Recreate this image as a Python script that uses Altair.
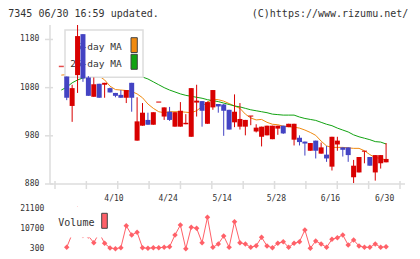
import altair as alt
import pandas as pd

# Daily OHLC prices (oldest first)
opens = [1124, 1103, 1042, 1106, 1191, 1101, 1061, 1088, 1086, 1079,
         1069, 1065, 1059, 1090, 970, 1001, 1013, 1003, 1050, 1020,
         1030, 999, 999, 1004, 978, 1049, 1052, 1005, 1039, 1046,
         1045, 1034, 1008, 999, 999, 1021, 989, 978, 981, 973,
         995, 1001, 998, 972, 976, 968, 949, 970, 943, 941,
         916, 962, 956, 956, 894, 904, 948, 936, 904, 923, 925]
highs = [1124, 1103, 1086, 1210, 1191, 1104, 1101, 1088, 1090, 1080,
         1069, 1075, 1075, 1090, 1060, 1048, 1028, 1029, 1050, 1039,
         1040, 1029, 1050, 1025, 1079, 1086, 1052, 1051, 1075, 1046,
         1046, 1034, 1066, 1048, 1013, 1021, 1004, 999, 1001, 1001,
         1001, 1001, 1005, 1005, 981, 968, 965, 970, 966, 959,
         978, 978, 956, 956, 930, 936, 948, 936, 940, 940, 965]
lows = [1124, 1054, 1009, 1069, 1092, 1063, 1061, 1059, 1059, 1070,
        1060, 1059, 1048, 1030, 970, 1001, 1003, 1003, 1050, 1013,
        1011, 999, 999, 1004, 978, 1020, 999, 1005, 1034, 1028,
        980, 993, 998, 993, 981, 1002, 987, 958, 981, 973,
        982, 984, 998, 960, 960, 939, 949, 933, 943, 926,
        908, 949, 937, 926, 882, 904, 923, 918, 887, 912, 925]
closes = [1124, 1059, 1079, 1187, 1099, 1063, 1087, 1059, 1090, 1070,
          1063, 1059, 1075, 1059, 1010, 1028, 1003, 1029, 1050, 1039,
          1013, 1029, 1032, 1007, 1079, 1053, 1032, 1050, 1075, 1041,
          1032, 993, 1030, 1015, 1013, 1021, 997, 999, 1001, 1001,
          1001, 985, 1005, 1005, 967, 964, 965, 949, 956, 933,
          978, 970, 951, 940, 918, 936, 948, 918, 940, 940, 932]

# Moving averages
ma5 = [1106, 1107, 1108, 1110, 1110, 1109, 1108, 1104, 1096, 1083,
       1076, 1075, 1074, 1072, 1067, 1059, 1046, 1037, 1030, 1028,
       1030, 1030, 1030, 1029, 1028, 1032, 1041, 1050, 1056, 1055,
       1052, 1047, 1042, 1037, 1025, 1017, 1013, 1014, 1008, 1004,
       1003, 1000, 999, 998, 996, 992, 987, 981, 969, 959,
       956, 956, 956, 955, 954, 954, 949, 941, 935, 933, 930]
ma25 = [1075, 1081, 1090, 1096, 1100, 1103, 1105, 1106, 1107, 1107,
        1107, 1106, 1106, 1105, 1104, 1102, 1098, 1092, 1086, 1080,
        1075, 1071, 1067, 1064, 1062, 1060, 1058, 1055, 1053, 1051,
        1048, 1045, 1042, 1040, 1037, 1034, 1032, 1030, 1028, 1025,
        1024, 1023, 1023, 1023, 1019, 1016, 1014, 1012, 1008, 1004,
        1001, 996, 992, 988, 982, 978, 975, 972, 968, 967, 963]

# Daily volume
volumes = [None, 1040, 8060, 21100, 7270, 7000, 3470, 8590, 3150, 670,
           300, 830, 12390, 7530, 9010, 830, 510, 830, 830, 1040,
           1360, 7530, 12810, 300, 11600, 11070, 3470, 16880, 1040, 2780,
           7010, 1040, 14560, 3470, 2780, 1040, 1880, 6320, 1730, 830,
           3150, 4000, 1040, 3150, 4000, 10170, 510, 4370, 2780, 1040,
           5260, 6110, 7530, 2250, 4890, 1730, 1040, 1040, 2780, 1040, 1360]

date_labels = ["4/10", "4/24", "5/14", "5/28", "6/16", "6/30"]
date_label_days = [10, 20, 30, 40, 50, 60]
price_ticks = [880, 980, 1080, 1180]
volume_ticks = [300, 10700, 21100]

RED, BLUE = "#d80000", "#4343c3"
ORANGE, GREEN = "#f08a10", "#12a312"
VOL = "#ff6068"
GRID = "#dddddd"
INK = "#333333"
MONO = "DejaVu Sans Mono"

W, H = 355, 230
X_LO, X_HI = -1.167, 62.57

n = len(closes)
df = pd.DataFrame({
    "day": list(range(n)),
    "open": opens, "high": highs, "low": lows, "close": closes,
    "ma5": ma5, "ma25": ma25, "volume": volumes,
})
df["top"] = df[["open", "close"]].max(axis=1)
df["bottom"] = df[["open", "close"]].min(axis=1)
df["dir"] = ["down" if c < o else "up" for o, c in zip(opens, closes)]

one = pd.DataFrame({"k": [0]})
xtick_df = pd.DataFrame({"t": [X_LO + k * (X_HI - X_LO) / 11 for k in range(12)]})
dates_df = pd.DataFrame({"day": date_label_days, "label": date_labels})
pticks_df = pd.DataFrame({"p": price_ticks})
vticks_df = pd.DataFrame({"v": volume_ticks})

x_scale = alt.Scale(domain=[X_LO, X_HI], nice=False, zero=False)
price_scale = alt.Scale(domain=[880, 1210], range=[159, 0], nice=False, zero=False)
vol_scale = alt.Scale(domain=[300, 21100], range=[223.7, 184.3], nice=False, zero=False)
color = alt.Color("dir:N", scale=alt.Scale(domain=["up", "down"], range=[RED, BLUE]), legend=None)

X = alt.X("day:Q", scale=x_scale, axis=None)

# volume panel
vol_line = alt.Chart(df).mark_line(color=VOL, strokeWidth=1).encode(
    x=X, y=alt.Y("volume:Q", scale=vol_scale, axis=None))
vol_pts = alt.Chart(df).mark_point(shape="diamond", filled=True, size=30, color=VOL, opacity=1).encode(
    x=X, y=alt.Y("volume:Q", scale=vol_scale, axis=None))
vol_box = alt.Chart(one).mark_rect(fill="white").encode(
    x=alt.value(5), x2=alt.value(62), y=alt.value(182), y2=alt.value(212.5))
vol_text = alt.Chart(one).mark_text(text="Volume", align="left", baseline="alphabetic",
                                    font=MONO, fontSize=10, color=INK).encode(
    x=alt.value(8.3), y=alt.value(201))
vol_swatch = alt.Chart(one).mark_rect(fill=VOL, stroke="#444", strokeWidth=1).encode(
    x=alt.value(51.7), x2=alt.value(57.3), y=alt.value(188.3), y2=alt.value(203.3))
vol_labels = alt.Chart(vticks_df).mark_text(align="right", baseline="middle", font=MONO,
                                            fontSize=8, color=INK).encode(
    x=alt.value(-5.7), y=alt.Y("v:Q", scale=vol_scale, axis=None), text="v:Q")

# moving averages
ma5_line = alt.Chart(df).mark_line(color=ORANGE, strokeWidth=1).encode(
    x=X, y=alt.Y("ma5:Q", scale=price_scale, axis=None))
ma25_line = alt.Chart(df).mark_line(color=GREEN, strokeWidth=1).encode(
    x=X, y=alt.Y("ma25:Q", scale=price_scale, axis=None))

# price legend
leg_box = alt.Chart(one).mark_rect(fill="white", stroke=GRID, strokeWidth=1.5).encode(
    x=alt.value(15), x2=alt.value(93), y=alt.value(5), y2=alt.value(52.3))
leg_t1 = alt.Chart(one).mark_text(text="5-day MA", align="right", baseline="alphabetic",
                                  font=MONO, fontSize=9.5, color=INK).encode(
    x=alt.value(71.7), y=alt.value(25))
leg_t2 = alt.Chart(one).mark_text(text="25-day MA", align="right", baseline="alphabetic",
                                  font=MONO, fontSize=9.5, color=INK).encode(
    x=alt.value(71.7), y=alt.value(41.7))
leg_s1 = alt.Chart(one).mark_rect(fill=ORANGE, stroke="#444", strokeWidth=1).encode(
    x=alt.value(81), x2=alt.value(87.3), y=alt.value(12.7), y2=alt.value(27.5))
leg_s2 = alt.Chart(one).mark_rect(fill=GREEN, stroke="#444", strokeWidth=1).encode(
    x=alt.value(81), x2=alt.value(87.3), y=alt.value(29.3), y2=alt.value(44.3))

# candles
wicks = alt.Chart(df).mark_rule(strokeWidth=1).encode(
    x=X, y=alt.Y("low:Q", scale=price_scale, axis=None), y2="high:Q", color=color)
bodies = alt.Chart(df).mark_bar(size=5).encode(
    x=X, y=alt.Y("bottom:Q", scale=price_scale, axis=None), y2="top:Q", color=color)
flats = alt.Chart(df).transform_filter("datum.open == datum.close").mark_tick(
    orient="horizontal", size=5, thickness=1.5).encode(
    x=X, y=alt.Y("close:Q", scale=price_scale, axis=None), color=color)

# axes
y_line = alt.Chart(one).mark_rule(color=GRID, strokeWidth=1.5).encode(
    x=alt.value(0), y=alt.value(0), y2=alt.value(159))
x_line = alt.Chart(one).mark_rule(color=GRID, strokeWidth=1.5).encode(
    x=alt.value(0), x2=alt.value(W), y=alt.value(159))
x_ticks = alt.Chart(xtick_df).mark_rule(color=GRID, strokeWidth=1.5).encode(
    x=alt.X("t:Q", scale=x_scale, axis=None), y=alt.value(156), y2=alt.value(164))
y_ticks = alt.Chart(pticks_df).mark_rule(color=GRID, strokeWidth=1.5).encode(
    y=alt.Y("p:Q", scale=price_scale, axis=None), x=alt.value(-5), x2=alt.value(3))
y_labels = alt.Chart(pticks_df).mark_text(align="right", baseline="middle", font=MONO,
                                          fontSize=8, color=INK).encode(
    x=alt.value(-10.7), y=alt.Y("p:Q", scale=price_scale, axis=None), text="p:Q")
x_labels = alt.Chart(dates_df).mark_text(align="center", baseline="alphabetic", font=MONO,
                                         fontSize=8, color=INK, dx=-1.5).encode(
    x=X, y=alt.value(175.5), text="label:N")

header_l = alt.Chart(one).mark_text(text="7345 06/30 16:59 updated.", align="left",
                                    baseline="alphabetic", font=MONO, fontSize=10, color=INK).encode(
    x=alt.value(-41.7), y=alt.value(-8.5))
header_r = alt.Chart(one).mark_text(text="(C)https://www.rizumu.net/", align="right",
                                    baseline="alphabetic", font=MONO, fontSize=10, color=INK).encode(
    x=alt.value(358.3), y=alt.value(-8.5))

chart = alt.layer(
    vol_line, vol_pts, vol_box, vol_text, vol_swatch, vol_labels,
    ma5_line, ma25_line,
    leg_box, leg_t1, leg_t2, leg_s1, leg_s2,
    wicks, bodies, flats,
    y_line, x_line, x_ticks, y_ticks, y_labels, x_labels,
    header_l, header_r,
).resolve_scale(y="independent").properties(
    width=W, height=H,
    padding={"left": 50, "top": 25, "right": 15, "bottom": 4},
    autosize=alt.AutoSizeParams(type="none"),
    background="white",
).configure_view(stroke=None)

chart.save("out.html", embed_options={"renderer": "svg", "actions": False})
